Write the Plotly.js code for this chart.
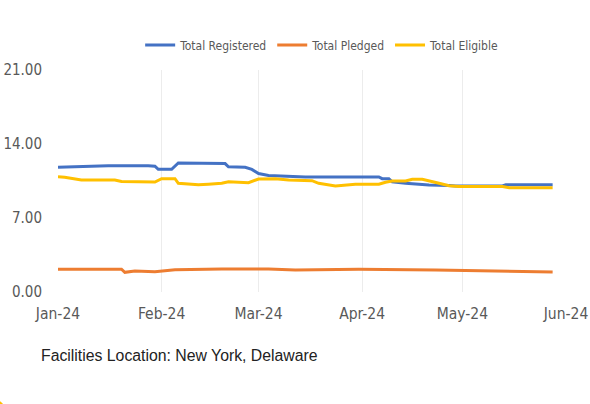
<!DOCTYPE html>
<html>
<head>
<meta charset="utf-8">
<script src="https://cdn.plot.ly/plotly-3.0.1.min.js"></script>
<style>html,body{margin:0;padding:0;background:#fff;}#chart{width:590px;height:404px;}</style>
</head>
<body>
<div id="chart"></div>
<script>
// Total Registered
const registeredDates = ['2024-01-01','2024-01-09','2024-01-16','2024-01-28','2024-01-30','2024-01-31','2024-02-04','2024-02-06','2024-02-20','2024-02-21','2024-02-26','2024-02-28','2024-03-01','2024-03-04','2024-03-07','2024-03-15','2024-04-06','2024-04-07','2024-04-09','2024-04-10','2024-04-14','2024-04-21','2024-04-27','2024-04-29','2024-05-13','2024-05-14','2024-05-28'];
const registeredValues = [11.8,11.9,11.95,11.95,11.9,11.6,11.6,12.2,12.15,11.85,11.8,11.6,11.2,11.03,10.97,10.88,10.88,10.72,10.72,10.43,10.28,10.12,10.08,10.03,10.03,10.15,10.15];
// Total Pledged
const pledgedDates = ['2024-01-01','2024-01-20','2024-01-21','2024-01-24','2024-01-30','2024-02-03','2024-02-05','2024-02-19','2024-03-04','2024-03-12','2024-03-31','2024-04-23','2024-05-16','2024-05-28'];
const pledgedValues = [2.15,2.15,1.86,1.99,1.92,2.02,2.11,2.18,2.18,2.08,2.15,2.08,1.99,1.9];
// Total Eligible
const eligibleDates = ['2024-01-01','2024-01-03','2024-01-08','2024-01-18','2024-01-20','2024-01-30','2024-02-01','2024-02-05','2024-02-06','2024-02-12','2024-02-15','2024-02-19','2024-02-21','2024-02-27','2024-03-01','2024-03-06','2024-03-10','2024-03-17','2024-03-19','2024-03-24','2024-03-30','2024-04-06','2024-04-08','2024-04-10','2024-04-14','2024-04-16','2024-04-19','2024-04-22','2024-04-24','2024-04-27','2024-04-30','2024-05-13','2024-05-15','2024-05-28'];
const eligibleValues = [10.9,10.85,10.6,10.6,10.45,10.4,10.72,10.72,10.28,10.15,10.2,10.28,10.43,10.34,10.69,10.72,10.6,10.53,10.28,10.03,10.19,10.19,10.38,10.5,10.5,10.66,10.66,10.4,10.28,10.06,9.97,9.97,9.87,9.87];

const tickDates = ['2024-01-01','2024-02-01','2024-03-01','2024-04-01','2024-05-01','2024-06-01'];
const tickLabels = ['Jan-24','Feb-24','Mar-24','Apr-24','May-24','Jun-24'];
const yTicks = [0,7,14,21];
const yTickLabels = ['0.00','7.00','14.00','21.00'];
const note = 'Facilities Location: New York, Delaware';

const narrow = 'Liberation Sans Narrow, DejaVu Sans Condensed, Arial Narrow, sans-serif';

const traces = [
  {x: registeredDates, y: registeredValues, name: 'Total Registered', mode: 'lines', line: {color: '#4472C4', width: 3}},
  {x: pledgedDates, y: pledgedValues, name: 'Total Pledged', mode: 'lines', line: {color: '#ED7D31', width: 3}},
  {x: eligibleDates, y: eligibleValues, name: 'Total Eligible', mode: 'lines', line: {color: '#FFC000', width: 3}}
];

const layout = {
  width: 590, height: 404,
  margin: {l: 58, r: 24, t: 70, b: 112},
  paper_bgcolor: '#fff', plot_bgcolor: '#fff',
  showlegend: true,
  legend: {orientation: 'h', x: 0.52, xanchor: 'center', y: 1.113, yanchor: 'middle',
           font: {family: narrow, size: 12, color: '#595959'}, itemwidth: 30, tracegroupgap: 0},
  xaxis: {type: 'date', range: ['2024-01-01','2024-06-01'], tickvals: tickDates, ticktext: tickLabels,
          showgrid: true, gridcolor: '#ececec', gridwidth: 1, zeroline: false, showline: false, ticks: '',
          ticklabelstandoff: 10,
          tickfont: {family: narrow, size: 15.5, color: '#595959'}},
  yaxis: {range: [0, 21], tickvals: yTicks, ticktext: yTickLabels, showgrid: false, zeroline: false,
          showline: false, ticks: '', ticklabelstandoff: 15,
          tickfont: {family: narrow, size: 15, color: '#595959'}},
  annotations: [{text: note, xref: 'paper', yref: 'paper', x: -0.038, y: -0.284, xanchor: 'left', yanchor: 'middle',
                 showarrow: false, font: {family: 'Liberation Sans, Arial, sans-serif', size: 15.8, color: '#222'}}],
  shapes: [{type: 'circle', xref: 'paper', yref: 'paper', x0: (-15-58)/508, x1: (5-58)/508, y0: (292-420)/222, y1: (292-400)/222,
            fillcolor: '#FFC000', line: {width: 0}}]
};

Plotly.newPlot('chart', traces, layout, {displayModeBar: false, staticPlot: true});
</script>
</body>
</html>
